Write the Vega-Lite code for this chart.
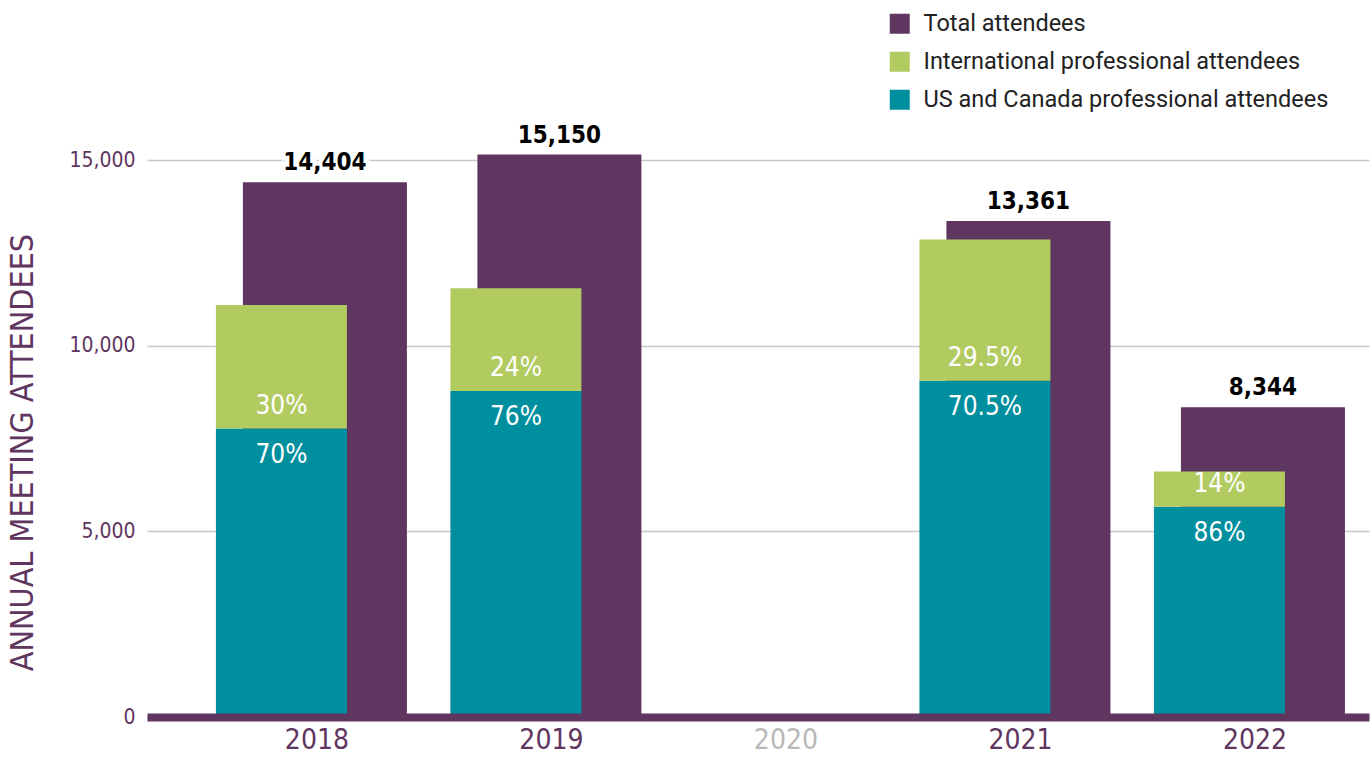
{
  "$schema": "https://vega.github.io/schema/vega-lite/v6.json",
  "width": 1222,
  "height": 594,
  "autosize": {"type": "none"},
  "padding": {"left": 147, "top": 123, "right": 3, "bottom": 40},
  "background": "white",
  "config": {"view": {"stroke": null}, "font": "DejaVu Sans Condensed, Roboto"},
  "data": {
    "values": [
      {"year": "2018", "series": "Total attendees", "lo": 0, "hi": 14404, "label": "14,404"},
      {"year": "2018", "series": "US and Canada professional attendees", "lo": 0, "hi": 7770, "label": "70%"},
      {"year": "2018", "series": "International professional attendees", "lo": 7770, "hi": 11100, "label": "30%"},
      {"year": "2019", "series": "Total attendees", "lo": 0, "hi": 15150, "label": "15,150"},
      {"year": "2019", "series": "US and Canada professional attendees", "lo": 0, "hi": 8780, "label": "76%"},
      {"year": "2019", "series": "International professional attendees", "lo": 8780, "hi": 11550, "label": "24%"},
      {"year": "2021", "series": "Total attendees", "lo": 0, "hi": 13361, "label": "13,361"},
      {"year": "2021", "series": "US and Canada professional attendees", "lo": 0, "hi": 9060, "label": "70.5%"},
      {"year": "2021", "series": "International professional attendees", "lo": 9060, "hi": 12860, "label": "29.5%"},
      {"year": "2022", "series": "Total attendees", "lo": 0, "hi": 8344, "label": "8,344"},
      {"year": "2022", "series": "US and Canada professional attendees", "lo": 0, "hi": 5660, "label": "86%"},
      {"year": "2022", "series": "International professional attendees", "lo": 5660, "hi": 6610, "label": "14%"}
    ]
  },
  "encoding": {
    "x": {
      "field": "year",
      "type": "ordinal",
      "title": null,
      "scale": {"domain": ["2018", "2019", "2020", "2021", "2022"], "paddingInner": 0.3, "paddingOuter": 0.2555, "align": 0.733},
      "axis": {
        "labelAngle": 0,
        "labelFont": "DejaVu Sans Condensed, Roboto",
        "labelFontSize": 28,
        "labelColor": {"condition": {"test": "datum.value == '2020'", "value": "#b8b8b8"}, "value": "#5e3660"},
        "ticks": false,
        "grid": false,
        "domainColor": "#5e3660",
        "domainWidth": 8,
        "labelPadding": 9,
        "zindex": 1
      }
    },
    "y": {
      "field": "hi",
      "type": "quantitative",
      "title": "ANNUAL MEETING ATTENDEES",
      "scale": {"domain": [0, 16000], "nice": false},
      "axis": {
        "values": [0, 5000, 10000, 15000],
        "format": ",d",
        "domain": false,
        "ticks": false,
        "labelFont": "DejaVu Sans Condensed, Roboto",
        "labelFontSize": 21,
        "labelColor": "#5e3660",
        "labelPadding": 12,
        "gridColor": "#c8c8c8",
        "gridWidth": 1.5,
        "titleFont": "DejaVu Sans Condensed, Roboto",
        "titleFontSize": 32,
        "titleFontWeight": "normal",
        "titleColor": "#5e3660",
        "titlePadding": 29,
        "titleY": 329
      }
    }
  },
  "layer": [
    {
      "transform": [{"filter": "datum.series == 'Total attendees'"}],
      "mark": {"type": "bar", "width": 164, "xOffset": 8},
      "encoding": {
        "y2": {"field": "lo"},
        "color": {
          "field": "series",
          "type": "nominal",
          "scale": {
            "domain": ["Total attendees", "International professional attendees", "US and Canada professional attendees"],
            "range": ["#5e3660", "#b2cb61", "#008f9e"]
          },
          "legend": {
            "title": null,
            "orient": "none",
            "legendX": 741,
            "legendY": -111,
            "direction": "vertical",
            "symbolType": "square",
            "symbolSize": 400,
            "symbolStrokeWidth": 0,
            "labelFont": "Roboto",
            "labelFontSize": 23.5,
            "labelColor": "#222222",
            "labelOffset": 12,
            "labelLimit": 600,
            "rowPadding": 13
          }
        }
      }
    },
    {
      "transform": [{"filter": "datum.series != 'Total attendees'"}],
      "mark": {"type": "bar", "width": 131, "xOffset": -35.5},
      "encoding": {
        "y2": {"field": "lo"},
        "color": {"field": "series", "type": "nominal"}
      }
    },
    {
      "transform": [{"filter": "datum.series == 'Total attendees'"}],
      "mark": {"type": "text", "xOffset": 8, "dy": -12, "baseline": "alphabetic", "fontSize": 24, "fontWeight": "bold", "fill": "white", "stroke": "white", "strokeWidth": 8},
      "encoding": {"text": {"field": "label"}}
    },
    {
      "transform": [{"filter": "datum.series == 'Total attendees'"}],
      "mark": {"type": "text", "xOffset": 8, "dy": -12, "baseline": "alphabetic", "fontSize": 24, "fontWeight": "bold", "color": "#000000"},
      "encoding": {"text": {"field": "label"}}
    },
    {
      "transform": [{"filter": "datum.series == 'US and Canada professional attendees'"}],
      "mark": {"type": "text", "xOffset": -35.5, "dy": 26, "baseline": "middle", "fontSize": 26, "color": "white"},
      "encoding": {"text": {"field": "label"}}
    },
    {
      "transform": [{"filter": "datum.series == 'International professional attendees'"}],
      "mark": {"type": "text", "xOffset": -35.5, "dy": -23, "baseline": "middle", "fontSize": 26, "color": "white"},
      "encoding": {
        "y": {"field": "lo", "type": "quantitative", "title": "ANNUAL MEETING ATTENDEES"},
        "text": {"field": "label"}
      }
    }
  ]
}
